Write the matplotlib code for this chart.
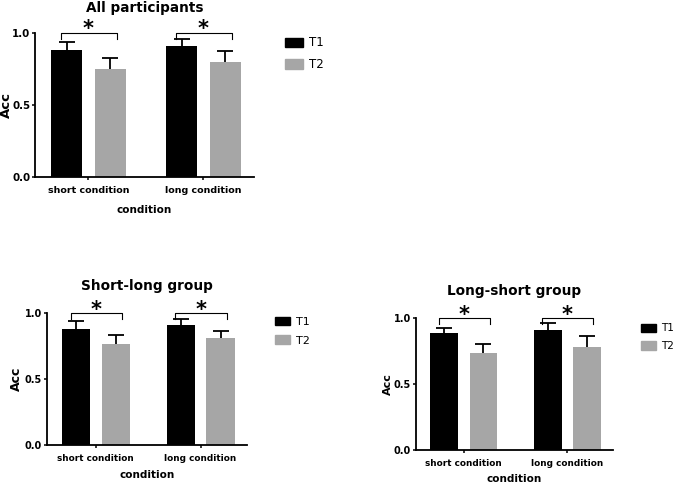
import matplotlib
matplotlib.use("Agg")
import matplotlib.pyplot as plt
import numpy as np
from matplotlib.patches import Patch

plt.rcParams['font.family'] = ['DejaVu Sans']

conditions = ['short condition', 'long condition']
series = ['T1', 'T2']
yticks = [0.0, 0.5, 1.0]
ytick_labels = ['0.0', '0.5', '1.0']

all_t1 = [0.88, 0.91]
all_t1_err = [0.055, 0.046]
all_t2 = [0.75, 0.80]
all_t2_err = [0.074, 0.075]

sl_t1 = [0.88, 0.91]
sl_t1_err = [0.064, 0.045]
sl_t2 = [0.77, 0.81]
sl_t2_err = [0.065, 0.056]

ls_t1 = [0.886, 0.911]
ls_t1_err = [0.043, 0.051]
ls_t2 = [0.734, 0.784]
ls_t2_err = [0.073, 0.084]

BLACK = '#000000'
GREY = '#a6a6a6'

fig = plt.figure(figsize=(6.75, 4.84), dpi=100)


def panel(rect, title, t1, t1e, t2, t2e, legend_xy, title_pad, fs_tick, fs_ytick,
          fs_ylab, ylab_x, xlab_y, fs_leg, hl):
    ax = fig.add_axes(rect)
    x = np.arange(len(conditions))
    d = 0.19
    w = 0.27
    ax.bar(x - d, t1, w, color=BLACK, zorder=2)
    ax.bar(x + d, t2, w, color=GREY, zorder=2)
    for xs, vals, errs in ((x - d, t1, t1e), (x + d, t2, t2e)):
        eb = ax.errorbar(xs, vals, yerr=[np.zeros(len(vals)), errs], fmt='none',
                         ecolor='black', elinewidth=1.3, capsize=5.5, capthick=1.3,
                         zorder=3, clip_on=False)
        eb[1][0].set_visible(False)
    for xc in x:
        ax.plot([xc - 0.24, xc - 0.24, xc + 0.25, xc + 0.25],
                [0.96, 1.0, 1.0, 0.96], color='black', lw=0.8,
                clip_on=False, zorder=4)
        ax.text(xc, 1.025, '*', ha='center', va='center', fontsize=15,
                fontweight='bold', clip_on=False)
    ax.set_xlim(-0.465, 1.44)
    ax.set_ylim(0, 1)
    ax.set_yticks(yticks)
    ax.set_yticklabels(ytick_labels)
    ax.set_xticks(x)
    ax.set_xticklabels(conditions)
    for lab in ax.get_xticklabels():
        lab.set_fontweight('bold')
        lab.set_fontsize(fs_tick)
    for lab in ax.get_yticklabels():
        lab.set_fontweight('bold')
        lab.set_fontsize(fs_ytick)
    ax.tick_params(direction='out', length=2.5, width=1.1)
    ax.tick_params(axis='y', pad=1)
    ax.tick_params(axis='x', pad=4)
    for s in ('top', 'right'):
        ax.spines[s].set_visible(False)
    for s in ('left', 'bottom'):
        ax.spines[s].set_linewidth(1.3)
    ax.set_title(title, fontsize=9.8, fontweight='bold', pad=title_pad)
    ax.set_xlabel('condition', fontsize=7.5, fontweight='bold')
    ax.xaxis.set_label_coords(0.5, xlab_y)
    ax.set_ylabel('Acc', fontsize=fs_ylab, fontweight='bold')
    ax.yaxis.set_label_coords(ylab_x, 0.5)
    handles = [Patch(facecolor=BLACK, edgecolor=BLACK), Patch(facecolor=GREY, edgecolor=GREY)]
    ax.legend(handles, series, loc='center left', bbox_to_anchor=legend_xy,
              bbox_transform=fig.transFigure, frameon=False, fontsize=fs_leg,
              handlelength=hl, handleheight=0.85, handletextpad=0.5,
              labelspacing=0.75, borderaxespad=0, borderpad=0)
    return ax


panel([0.0519, 0.6343, 0.3244, 0.2975], 'All participants',
      all_t1, all_t1_err, all_t2, all_t2_err, (0.422, 0.889), 15, 6.8, 7.4, 9.5,
      -0.10, -0.195, 8.5, 1.55)
panel([0.0696, 0.0806, 0.2959, 0.2721], 'Short-long group',
      sl_t1, sl_t1_err, sl_t2, sl_t2_err, (0.407, 0.316), 17, 6.4, 7.0, 9,
      -0.12, -0.19, 8, 1.4)
panel([0.6159, 0.0702, 0.2919, 0.2722], 'Long-short group',
      ls_t1, ls_t1_err, ls_t2, ls_t2_err, (0.9496, 0.303), 17, 6.4, 7.0, 8,
      -0.115, -0.18, 7.5, 1.4)

fig.savefig('out.png', dpi=100)
